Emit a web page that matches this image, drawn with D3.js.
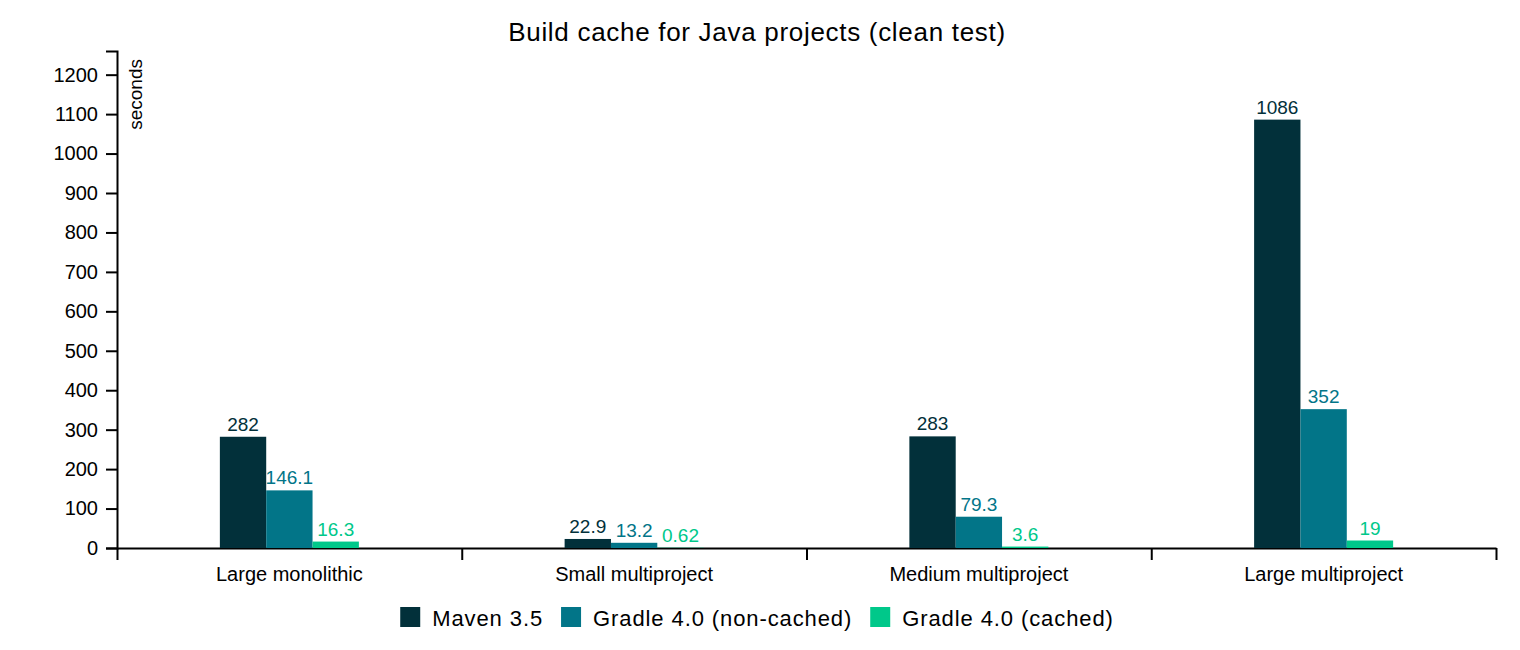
<!DOCTYPE html>
<html>
<head>
<meta charset="utf-8">
<script src="https://cdnjs.cloudflare.com/ajax/libs/d3/7.8.5/d3.min.js"></script>
<style>
  body { margin: 0; background: #fff; }
  svg { font-family: "Liberation Sans", Arial, Helvetica, sans-serif; }
  .axis path, .axis line { stroke: #000; stroke-width: 2px; }
</style>
</head>
<body>
<div id="chart"></div>
<script>
const categories = ["Large monolithic", "Small multiproject", "Medium multiproject", "Large multiproject"];
const seriesNames = ["Maven 3.5", "Gradle 4.0 (non-cached)", "Gradle 4.0 (cached)"];
const maven = [282, 22.9, 283, 1086];
const gradleNonCached = [146.1, 13.2, 79.3, 352];
const gradleCached = [16.3, 0.62, 3.6, 19];
const yTicks = d3.range(0, 1201, 100);
const colors = ["#02303a", "#027588", "#00c88a"];

const width = 1520, height = 650;
const margin = { top: 51, right: 24, bottom: 102, left: 117 };
const graphWidth = width - margin.left - margin.right;
const graphHeight = height - margin.top - margin.bottom;

const svg = d3.select("#chart").append("svg")
    .attr("width", width)
    .attr("height", height);

const graph = svg.append("g")
    .attr("transform", `translate(${margin.left},${margin.top})`);

const seriesValues = [maven, gradleNonCached, gradleCached];
const rows = categories.map((c, i) => ({
    category: c,
    values: seriesNames.map((s, j) => ({ series: s, value: seriesValues[j][i] }))
}));

// scales
const x0 = d3.scaleBand()
    .domain(categories)
    .range([0, graphWidth])
    .padding(0);

const x1 = d3.scaleBand()
    .domain(seriesNames)
    .range([0, x0.bandwidth()])
    .paddingInner(0)
    .paddingOuter(2.22);

const y = d3.scaleLinear()
    .domain([0, 1260])
    .range([graphHeight, 0]);

const color = d3.scaleOrdinal()
    .domain(seriesNames)
    .range(colors);

// y axis
const yAxisGroup = graph.append("g")
    .attr("class", "axis")
    .call(d3.axisLeft(y).tickValues(yTicks).tickFormat(d3.format("d")).tickSize(11).tickPadding(8));
yAxisGroup.selectAll("text")
    .style("font-size", "20px")
    .attr("fill", "#000");

yAxisGroup.append("text")
    .attr("transform", "rotate(-90)")
    .attr("x", -8)
    .attr("y", 25)
    .attr("text-anchor", "end")
    .attr("fill", "#000")
    .style("font-size", "19px")
    .text("seconds");

// x axis: labels at band centres
const xAxisGroup = graph.append("g")
    .attr("class", "axis")
    .attr("transform", `translate(0, ${graphHeight})`)
    .call(d3.axisBottom(x0).tickSize(0).tickPadding(19));
xAxisGroup.select(".domain").remove();
xAxisGroup.selectAll("text")
    .style("font-size", "20px")
    .attr("fill", "#000");

// x axis: tick marks at band boundaries
const xEdge = d3.scaleLinear()
    .domain([0, categories.length])
    .range([0, graphWidth]);
graph.append("g")
    .attr("class", "axis")
    .attr("transform", `translate(0, ${graphHeight})`)
    .call(d3.axisBottom(xEdge)
        .tickValues(d3.range(0, categories.length + 1))
        .tickSize(12)
        .tickSizeOuter(0)
        .tickFormat(""));

// bars
const groups = graph.selectAll(".group")
    .data(rows)
    .enter().append("g")
    .attr("class", "group")
    .attr("transform", d => `translate(${x0(d.category)},0)`);

groups.selectAll("rect")
    .data(d => d.values)
    .enter().append("rect")
    .attr("x", d => x1(d.series))
    .attr("y", d => y(d.value))
    .attr("width", x1.bandwidth())
    .attr("height", d => y(0) - y(d.value))
    .attr("fill", d => color(d.series));

groups.selectAll(".value")
    .data(d => d.values)
    .enter().append("text")
    .attr("class", "value")
    .attr("x", d => x1(d.series) + x1.bandwidth() / 2)
    .attr("y", d => y(d.value) - 6)
    .attr("text-anchor", "middle")
    .attr("fill", d => color(d.series))
    .style("font-size", "19px")
    .text(d => String(d.value));

// title
svg.append("text")
    .attr("x", 757)
    .attr("y", 41)
    .attr("text-anchor", "middle")
    .attr("fill", "#000")
    .style("font-size", "26px")
    .style("letter-spacing", "0.7px")
    .text("Build cache for Java projects (clean test)");

// legend, laid out from measured text widths
const legend = svg.append("g");
const items = legend.selectAll(".item")
    .data(seriesNames)
    .enter().append("g")
    .attr("class", "item");
items.append("rect")
    .attr("width", 20)
    .attr("height", 20)
    .attr("y", 607)
    .attr("fill", d => color(d));
items.append("text")
    .attr("x", 32)
    .attr("y", 626)
    .attr("fill", "#000")
    .style("font-size", "22px")
    .style("letter-spacing", "0.9px")
    .text(d => d);

let offset = 0;
const offsets = [];
items.each(function () {
    offsets.push(offset);
    const w = d3.select(this).select("text").node().getComputedTextLength();
    offset += 32 + w + 18;
});
const total = offset - 18;
const start = 757 - total / 2;
items.attr("transform", (d, i) => `translate(${start + offsets[i]},0)`);
</script>
</body>
</html>
